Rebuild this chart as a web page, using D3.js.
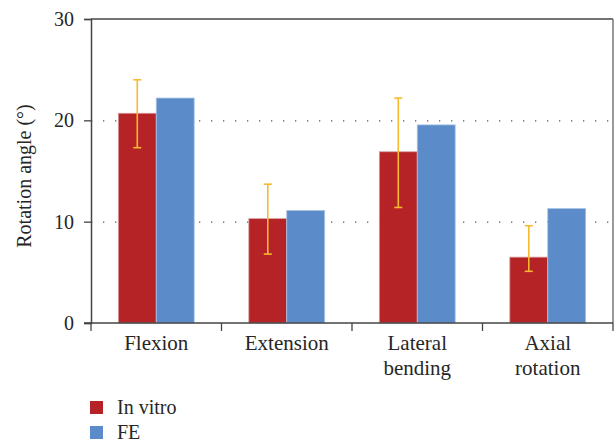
<!DOCTYPE html>
<html>
<head>
<meta charset="utf-8">
<script src="https://cdn.jsdelivr.net/npm/d3@7/dist/d3.min.js"></script>
<style>
body { margin: 0; background: #fff; }
</style>
</head>
<body>
<svg id="chart" width="615" height="443"></svg>
<script>
const categories = ["Flexion", "Extension", "Lateral bending", "Axial rotation"];
const categoryLines = [["Flexion"], ["Extension"], ["Lateral", "bending"], ["Axial", "rotation"]];
const seriesNames = ["In vitro", "FE"];
const inVitro = [20.7, 10.3, 16.9, 6.5];
const inVitroErrLow = [17.3, 6.8, 11.4, 5.1];
const inVitroErrHigh = [24.0, 13.7, 22.2, 9.6];
const fe = [22.2, 11.1, 19.55, 11.3];
const yTicks = [0, 10, 20, 30];
const gridTicks = [10, 20];
const colors = ["#b52327", "#5b8bc8"];
const errColor = "#f7b92e";
const FONT = '"Liberation Serif", "Times New Roman", serif';
const TEXT = "#262626";

const svg = d3.select("#chart");
const m = { left: 91, right: 613, top: 19, bottom: 323 };

const x = d3.scaleBand().domain(categories).range([m.left, m.right]).paddingInner(0).paddingOuter(0);
const xs = d3.scaleBand().domain(seriesNames).range([0, x.bandwidth()]).paddingOuter(0.72).paddingInner(0);
const y = d3.scaleLinear().domain([0, 30]).range([m.bottom, m.top]);

// gridlines
svg.append("g").selectAll("line").data(gridTicks).join("line")
  .attr("x1", m.left).attr("x2", m.right)
  .attr("y1", d => y(d) + 0.5).attr("y2", d => y(d) + 0.5)
  .attr("stroke", "#555").attr("stroke-width", 1.3)
  .attr("stroke-dasharray", "1.3,10.7");

// frame top and right
svg.append("line").attr("x1", m.left).attr("x2", m.right).attr("y1", m.top).attr("y2", m.top)
  .attr("stroke", "#444").attr("stroke-width", 1.3);
svg.append("line").attr("x1", m.right).attr("x2", m.right).attr("y1", m.top).attr("y2", m.bottom)
  .attr("stroke", "#777").attr("stroke-width", 1.5);

// bars
const series = [inVitro, fe];
series.forEach((vals, si) => {
  svg.append("g").selectAll("rect").data(categories).join("rect")
    .attr("x", c => x(c) + xs(seriesNames[si]))
    .attr("width", xs.bandwidth())
    .attr("y", (c, i) => y(vals[i]))
    .attr("height", (c, i) => y(0) - y(vals[i]))
    .attr("fill", colors[si])
    .attr("stroke", si === 0 ? "#d9a0a0" : "#a9c4e6").attr("stroke-width", 0.8);
});

// error bars
const eg = svg.append("g");
categories.forEach((c, i) => {
  const cx = x(c) + xs(seriesNames[0]) + xs.bandwidth() / 2;
  eg.append("line").attr("x1", cx).attr("x2", cx)
    .attr("y1", y(inVitroErrLow[i])).attr("y2", y(inVitroErrHigh[i]))
    .attr("stroke", errColor).attr("stroke-width", 1.6);
  [inVitroErrLow[i], inVitroErrHigh[i]].forEach(v => {
    eg.append("line").attr("x1", cx - 4).attr("x2", cx + 4)
      .attr("y1", y(v)).attr("y2", y(v))
      .attr("stroke", errColor).attr("stroke-width", 1.6);
  });
});

// y axis
const yAxis = d3.axisLeft(y).tickValues(yTicks).tickSize(7).tickPadding(10).tickFormat(d3.format("d"));
const ya = svg.append("g").attr("transform", `translate(${m.left},0)`).call(yAxis)
  .attr("font-family", FONT).attr("font-size", 20);
ya.select(".domain").attr("stroke", "#444").attr("stroke-width", 1.5);
ya.selectAll(".tick line").attr("stroke", "#444").attr("stroke-width", 1.3);
ya.selectAll(".tick text").attr("fill", TEXT);

// x axis
const xa = svg.append("g").attr("transform", `translate(0,${m.bottom})`)
  .attr("font-family", FONT).attr("font-size", 21).attr("fill", TEXT);
xa.append("line").attr("x1", m.left - 7).attr("x2", m.right).attr("y1", 0).attr("y2", 0)
  .attr("stroke", "#444").attr("stroke-width", 1.5);
const boundaries = categories.map(c => x(c)).concat([x(categories[categories.length - 1]) + x.bandwidth()]);
xa.selectAll(".bt").data(boundaries).join("line")
  .attr("x1", d => d).attr("x2", d => d).attr("y1", 0).attr("y2", 8)
  .attr("stroke", "#444").attr("stroke-width", 1.3);
categories.forEach((c, i) => {
  const t = xa.append("text").attr("x", x(c) + x.bandwidth() / 2).attr("y", 27)
    .attr("text-anchor", "middle");
  categoryLines[i].forEach((ln, k) => {
    t.append("tspan").attr("x", x(c) + x.bandwidth() / 2).attr("dy", k === 0 ? 0 : 25).text(ln);
  });
});

// y label
svg.append("text").attr("transform", `translate(31,176) rotate(-90)`)
  .attr("font-family", FONT).attr("fill", TEXT)
  .attr("text-anchor", "middle").attr("font-size", 20).text("Rotation angle (°)");

// legend
const lg = svg.append("g").attr("font-family", FONT).attr("font-size", 20).attr("fill", TEXT);
seriesNames.forEach((s, i) => {
  lg.append("rect").attr("x", 90).attr("y", 401 + i * 25).attr("width", 13).attr("height", 13).attr("fill", colors[i]);
  lg.append("text").attr("x", 117).attr("y", 414 + i * 25).text(s);
});
</script>
</body>
</html>
